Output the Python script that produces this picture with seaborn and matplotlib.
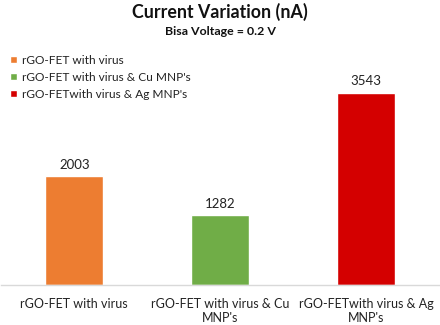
import matplotlib
matplotlib.use("Agg")
import matplotlib.pyplot as plt
import seaborn as sns
import pandas as pd

categories = ["rGO-FET with virus", "rGO-FET with virus & Cu MNP's", "rGO-FETwith virus & Ag MNP's"]
tick_labels = ["rGO-FET with virus", "rGO-FET with virus & Cu\nMNP's", "rGO-FETwith virus & Ag\nMNP's"]
current_na = [2003, 1282, 3543]
colors = ["#ED7D31", "#70AD47", "#D40000"]

sns.set_theme(style="white")
plt.rcParams["font.family"] = ["Lato", "DejaVu Sans"]

df = pd.DataFrame({"sample": categories, "current": current_na})

fig = plt.figure(figsize=(4.4, 3.25), dpi=100)
ax = fig.add_axes([0.003, 0.123, 0.995, 0.668])

sns.barplot(data=df, x="sample", y="current", hue="sample", palette=colors,
            width=0.4, dodge=False, legend=True, ax=ax, saturation=1)

for patch, v in zip(ax.patches, current_na):
    ax.annotate(f"{v}", (patch.get_x() + patch.get_width() / 2, v),
                xytext=(0, 4), textcoords="offset points",
                ha="center", va="bottom", fontsize=9.5, color="#222222")

ax.set_ylim(0, 4000)
ax.set_xlim(-0.5, 2.5)
ax.set_xticks(range(len(tick_labels)))
ax.set_xticklabels(tick_labels, fontsize=9, color="#222222", linespacing=1.25)
ax.tick_params(axis="x", length=0, pad=9)
ax.set_yticks([])
ax.set_xlabel("")
ax.set_ylabel("")
for side in ["top", "left", "right"]:
    ax.spines[side].set_visible(False)
ax.spines["bottom"].set_color("#d9d9d9")
ax.spines["bottom"].set_linewidth(1)

leg = ax.legend(loc="upper left", bbox_to_anchor=(0.0, 1.10), frameon=False,
                fontsize=8.6, handlelength=0.6, handleheight=0.6,
                handletextpad=0.4, labelspacing=0.5, borderaxespad=0.3)
for t in leg.get_texts():
    t.set_color("#222222")

fig.text(0.5, 0.962, "Current Variation (nA)", ha="center", va="center",
         fontsize=12.8, fontweight="bold", color="#111111")
fig.text(0.5, 0.904, "Bisa Voltage = 0.2 V", ha="center", va="center",
         fontsize=8.9, fontweight="bold", color="#111111")

fig.savefig("out.png", dpi=100)
